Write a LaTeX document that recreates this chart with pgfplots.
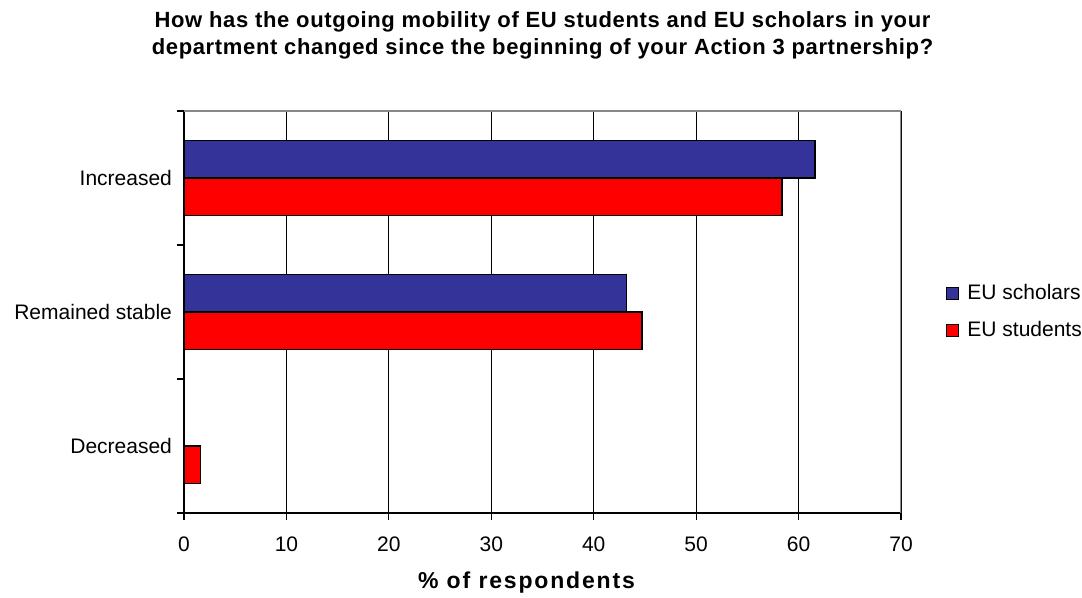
\documentclass[border=0pt]{standalone}
\usepackage{fontspec}
\setmainfont{Liberation Sans}
\newfontfamily\titlefont[LetterSpace=3]{Liberation Sans}
\newfontfamily\labelfont[LetterSpace=8]{Liberation Sans}
\usepackage{pgfplots}
\pgfplotsset{compat=1.18}
\definecolor{scholar}{HTML}{333399}
\definecolor{student}{HTML}{FF0000}
\definecolor{frame}{HTML}{888888}

\begin{document}
\begin{tikzpicture}
\begin{axis}[
  scale only axis, width=358.5pt, height=201pt,
  xbar, bar width=18.8pt,
  xmin=0, xmax=70, xtick={0,10,...,70},
  ymin=-0.5, ymax=2.5,
  ytick={0,1,2},
  yticklabels={Decreased,Remained stable,Increased},
  minor ytick={-0.5,0.5,1.5,2.5},
  major y tick style={draw=none},
  minor y tick style={black, line width=0.6pt},
  major x tick style={black, line width=0.6pt},
  major tick length=3.5pt, minor tick length=3.5pt,
  tick align=outside,
  axis x line*=bottom, axis y line*=left,
  axis line style={black, line width=0.7pt},
  xmajorgrids, major grid style={black, line width=0.5pt},
  ticklabel style={font=\fontsize{10.5}{12}\selectfont},
  xticklabel style={yshift=-5pt},
  yticklabel style={xshift=1pt},
  /pgf/number format/assume math mode=true,
  title={How has the outgoing mobility of EU students and EU scholars in your\\department changed since the beginning of your Action 3 partnership?},
  title style={align=center, font=\titlefont\bfseries\fontsize{11}{13.5}\selectfont,
    at={(axis description cs:0.5,1)}, anchor=center, yshift=32pt},
  xlabel={\% of respondents},
  xlabel style={font=\labelfont\bfseries\fontsize{11.5}{13}\selectfont,
    at={(axis description cs:0.5,0)}, anchor=center, yshift=-35pt, xshift=-8pt},
  legend style={draw=none, fill=none, at={(axis description cs:1.062,0.5)},
    anchor=west, font=\fontsize{10.5}{12}\selectfont,
    row sep=5pt, inner sep=0pt},
  legend cell align=left,
  legend image code/.code={\draw[#1, line width=0.6pt] (0pt,-3pt) rectangle (6pt,3pt);
    \path[draw=none, fill=none] (0pt,0pt) -- (8.5pt,0pt);},
]
\addplot[fill=scholar, draw=black, line width=0.7pt, bar shift=9.4pt]
  coordinates {(61.6,2) (43.2,1)};
\addlegendentry{EU scholars}
\addplot[fill=student, draw=black, line width=0.7pt, bar shift=-9.4pt]
  coordinates {(58.4,2) (44.7,1) (1.6,0)};
\addlegendentry{EU students}
\draw[frame, line width=1pt] (rel axis cs:0,1) -- (rel axis cs:1,1) -- (rel axis cs:1,0);
\coordinate (bl) at (rel axis cs:0,0);
\coordinate (tr) at (rel axis cs:1,1);
\end{axis}
\pgfresetboundingbox
\path[use as bounding box] ([shift={(-92pt,-42pt)}]bl) rectangle ([shift={(90.5pt,55.5pt)}]tr);
\end{tikzpicture}
\end{document}
